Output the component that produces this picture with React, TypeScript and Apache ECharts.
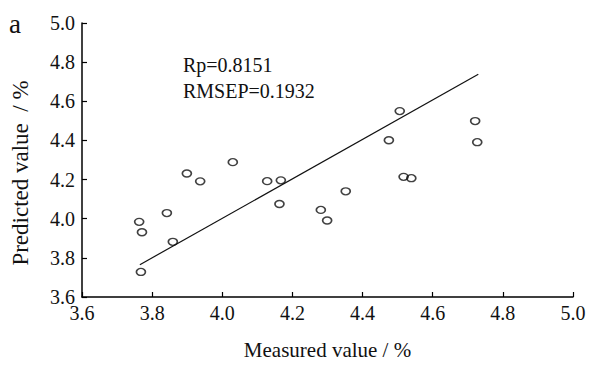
import React, { useEffect, useRef } from "react";
import * as echarts from "echarts";

const measured = [3.763, 3.771, 3.768, 3.842, 3.859, 3.899, 3.937, 4.03, 4.128, 4.167, 4.163, 4.281, 4.299, 4.352, 4.506, 4.475, 4.517, 4.539, 4.721, 4.727];
const predicted = [3.984, 3.931, 3.728, 4.029, 3.882, 4.231, 4.191, 4.289, 4.192, 4.196, 4.075, 4.045, 3.991, 4.14, 4.55, 4.401, 4.214, 4.207, 4.499, 4.391];
const fitLine = [
  [3.765, 3.765],
  [4.73, 4.738],
];
const statsText = ["Rp=0.8151", "RMSEP=0.1932"];
const panelLabel = "a";
const xName = "Measured value / %";
const yName = "Predicted value  / %";

const FONT = "Liberation Serif";

export default function App() {
  const ref = useRef<HTMLDivElement>(null);
  useEffect(() => {
    if (!ref.current) return;
    const chart = echarts.init(ref.current, undefined, { renderer: "svg" });
    const axisCommon = {
      type: "value" as const,
      min: 3.6,
      max: 5.0,
      interval: 0.2,
      splitLine: { show: false },
      axisLine: { show: true, lineStyle: { color: "#000", width: 1.5 } },
      axisTick: { show: true, inside: true, length: 5, lineStyle: { color: "#000", width: 1.2 } },
      axisLabel: {
        color: "#111",
        fontFamily: FONT,
        fontSize: 20,
        formatter: (v: number) => v.toFixed(1),
      },
    };
    chart.setOption({
      animation: false,
      backgroundColor: "#fff",
      grid: { left: 82, right: 16, top: 23, bottom: 60, containLabel: false },
      xAxis: {
        ...axisCommon,
        name: xName,
        nameLocation: "middle",
        nameGap: 42,
        nameTextStyle: { color: "#111", fontFamily: FONT, fontSize: 21 },
        axisLabel: { ...axisCommon.axisLabel, margin: 6 },
      },
      yAxis: { ...axisCommon, axisLabel: { ...axisCommon.axisLabel, margin: 7 } },
      graphic: [
        {
          type: "text",
          x: 9,
          y: 24,
          style: { text: panelLabel, fontFamily: FONT, fontSize: 27, fill: "#111", verticalAlign: "middle" },
        },
        {
          type: "text",
          x: 20,
          y: 173,
          rotation: Math.PI / 2,
          style: { text: yName, fontFamily: FONT, fontSize: 23, fill: "#111", align: "center", verticalAlign: "middle" },
        },
        {
          type: "text",
          x: 183,
          y: 65,
          style: { text: statsText[0], fontFamily: FONT, fontSize: 20, fill: "#111", verticalAlign: "middle" },
        },
        {
          type: "text",
          x: 183,
          y: 91,
          style: { text: statsText[1], fontFamily: FONT, fontSize: 20, fill: "#111", verticalAlign: "middle" },
        },
      ],
      series: [
        {
          type: "line",
          data: fitLine,
          showSymbol: false,
          symbol: "none",
          lineStyle: { color: "#111", width: 1.2 },
          z: 2,
        },
        {
          type: "scatter",
          data: measured.map((x, i) => [x, predicted[i]]),
          symbol: "path://M-1,0A1,1,0,1,1,1,0A1,1,0,1,1,-1,0Z",
          symbolSize: [9, 7],
          itemStyle: { color: "rgba(255,255,255,0)", borderColor: "#111", borderWidth: 1.5 },
          z: 3,
        },
      ],
    });
    return () => chart.dispose();
  }, []);
  return <div ref={ref} style={{ position: "fixed", left: 0, top: 0, width: 589, height: 365 }} />;
}
